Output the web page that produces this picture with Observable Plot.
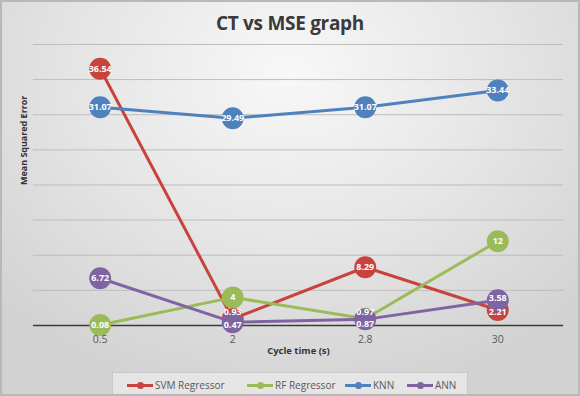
<!DOCTYPE html>
<html>
<head>
<meta charset="utf-8">
<script src="https://cdn.jsdelivr.net/npm/d3@7"></script>
<script src="https://cdn.jsdelivr.net/npm/@observablehq/plot@0.6"></script>
<style>
  html, body { margin: 0; padding: 0; }
  #wrap {
    position: relative; width: 580px; height: 396px; box-sizing: border-box;
    border: 2px solid #b8b8b8;
    background: radial-gradient(ellipse 70% 85% at 50% 18%, #f8f8f8 0%, #e6e6e6 50%, #d2d2d2 100%);
    font-family: "Open Sans", "Liberation Sans", sans-serif; overflow: hidden;
  }
  #title { position: absolute; left: 0; width: 576px; top: 8px; text-align: center;
    font-size: 19px; font-weight: bold; color: #3a3a3a; line-height: 26px; letter-spacing: -0.3px; }
  #chart { position: absolute; left: -2px; top: 32px; }
  #legend { position: absolute; left: 110px; top: 370px; width: 356px; height: 23px; box-sizing: border-box;
    border: 1px solid #c8c8c8; background: rgba(236,236,236,0.7);
    display: flex; align-items: center; font-size: 10px; color: #595959; }
  .item { position: absolute; display: flex; align-items: center; top: 5px; }
  .sw { position: relative; width: 26px; height: 3px; margin-right: 2px; }
  .sw i { position: absolute; left: 10px; top: -2px; width: 7px; height: 7px; border-radius: 50%; }
</style>
</head>
<body>
<div id="wrap">
  <div id="title">CT vs MSE graph</div>
  <div id="chart"></div>
  <div id="legend"></div>
</div>
<script>
const cycles = ["0.5", "2", "2.8", "30"];
const seriesNames = ["SVM Regressor", "RF Regressor", "KNN", "ANN"];
const svm = [36.54, 0.93, 8.29, 2.21];
const rf = [0.08, 4, 0.97, 12];
const knn = [31.07, 29.49, 31.07, 33.44];
const ann = [6.72, 0.47, 0.87, 3.58];
const colors = ["#c9433e", "#9bbb59", "#4f81bd", "#8064a2"];
const gridValues = [0, 5, 10, 15, 20, 25, 30, 35, 40];

const allSeries = [svm, rf, knn, ann];
const data = [];
allSeries.forEach((vals, si) => vals.forEach((v, i) => data.push({series: seriesNames[si], cycle: cycles[i], value: v})));

// small label nudges where markers sit on top of each other
function labelDy(d) {
  if (d.cycle === "2" && d.series === "SVM Regressor") return -7;
  if (d.cycle === "2" && d.series === "ANN") return 3;
  if (d.cycle === "30" && d.series === "SVM Regressor") return 2;
  if (d.cycle === "30" && d.series === "ANN") return -2;
  if (d.cycle === "2.8" && d.series === "RF Regressor") return -7;
  if (d.cycle === "2.8" && d.series === "ANN") return 5;
  return 0;
}

const marks = [
  Plot.ruleY(gridValues.filter(d => d > 0), {stroke: "#bdbdbd", strokeWidth: 1}),
  Plot.ruleY([0], {stroke: "#3a3a3a", strokeWidth: 1.5}),
];
seriesNames.forEach((name, si) => {
  const sd = data.filter(d => d.series === name);
  marks.push(Plot.line(sd, {x: "cycle", y: "value", stroke: colors[si], strokeWidth: 3}));
  marks.push(Plot.dot(sd, {x: "cycle", y: "value", fill: colors[si], r: 11, stroke: "none"}));
});
Array.from(new Set(data.map(labelDy))).forEach(off => {
  const sub = data.filter(d => labelDy(d) === off);
  marks.push(Plot.text(sub, {x: "cycle", y: "value", dy: off, text: d => String(d.value),
    fill: "white", fontWeight: "bold", fontSize: 9}));
});
marks.push(Plot.text(["Mean Squared Error"], {frameAnchor: "left", dx: -9, rotate: -90, fontSize: 9,
  fontWeight: "bold", fill: "#333"}));
marks.push(Plot.text(["Cycle time (s)"], {frameAnchor: "bottom", dy: 29, fontSize: 9.5,
  fontWeight: "bold", fill: "#333"}));
marks.push(Plot.axisX({tickSize: 0, tickPadding: 10, fontSize: 10.5, color: "#595959", label: null}));

const chart = Plot.plot({
  width: 580, height: 336,
  marginTop: 10, marginBottom: 44, marginLeft: 33, marginRight: 15,
  style: {background: "transparent", fontFamily: "Open Sans, Liberation Sans, sans-serif", overflow: "visible"},
  x: {type: "point", domain: cycles, padding: 0.5},
  y: {domain: [0, 40], axis: null},
  marks
});
document.getElementById("chart").appendChild(chart);

const legend = document.getElementById("legend");
const lefts = [14, 134, 232, 294];
seriesNames.forEach((name, si) => {
  const it = document.createElement("div");
  it.className = "item";
  it.style.left = lefts[si] + "px";
  it.innerHTML = `<span class="sw" style="background:${colors[si]}"><i style="background:${colors[si]}"></i></span><span>${name}</span>`;
  legend.appendChild(it);
});
</script>
</body>
</html>
